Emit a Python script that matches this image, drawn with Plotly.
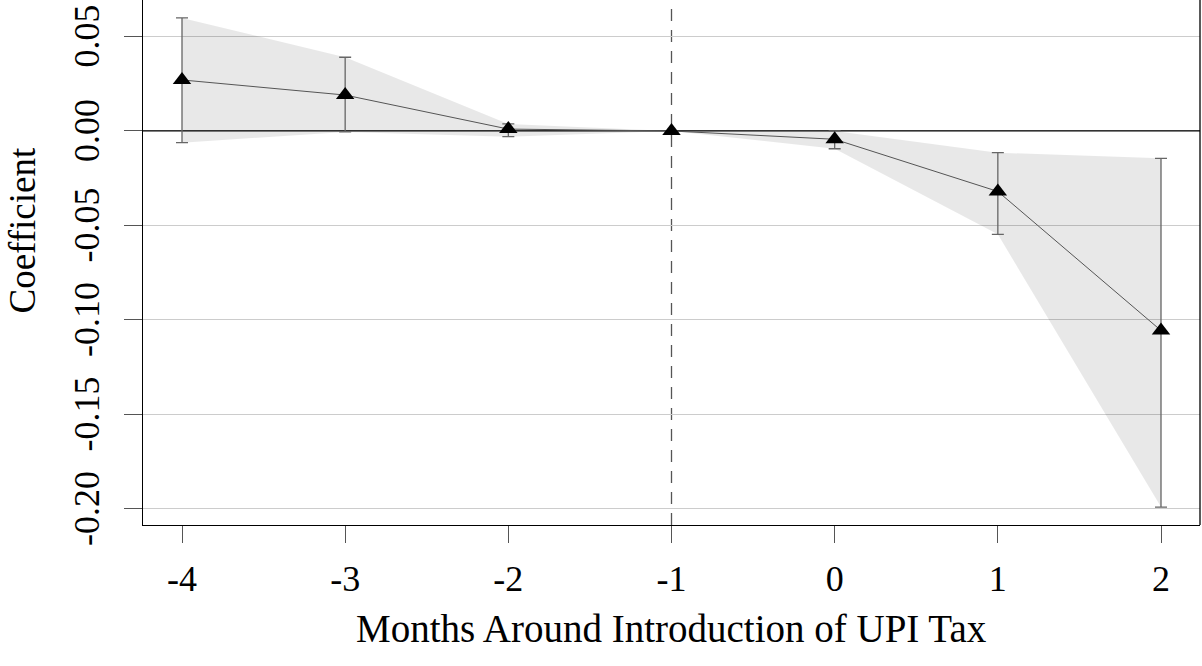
import plotly.graph_objects as go

months = [-4, -3, -2, -1, 0, 1, 2]
coef = [0.027, 0.019, 0.001, 0.0, -0.0044, -0.032, -0.1056]
ci_upper = [0.0598, 0.0390, 0.0037, 0.0, 0.0000, -0.0115, -0.0145]
ci_lower = [-0.0062, -0.0005, -0.0030, 0.0, -0.0094, -0.0547, -0.1990]

x_tick_vals = [-4, -3, -2, -1, 0, 1, 2]
x_tick_text = ["-4", "-3", "-2", "-1", "0", "1", "2"]
y_tick_vals = [0.05, 0.0, -0.05, -0.10, -0.15, -0.20]
y_tick_text = ["0.05", "0.00", "-0.05", "-0.10", "-0.15", "-0.20"]

x_range = [-4.239, 2.239]
y_range = [-0.2085, 0.0693]
event_month = -1

FONT = "Liberation Serif"
TICK_SIZE = 36
TITLE_SIZE = 39

fig = go.Figure()

# confidence band
fig.add_trace(go.Scatter(x=months, y=ci_upper, mode="lines",
                         line=dict(width=0), hoverinfo="skip", showlegend=False))
fig.add_trace(go.Scatter(x=months, y=ci_lower, mode="lines", fill="tonexty",
                         fillcolor="rgba(0,0,0,0.09)",
                         line=dict(width=0), hoverinfo="skip", showlegend=False))

# zero reference line
fig.add_trace(go.Scatter(x=x_range, y=[0, 0], mode="lines",
                         line=dict(color="black", width=1.3),
                         hoverinfo="skip", showlegend=False))

# coefficients with error bars
err_plus = [u - c for u, c in zip(ci_upper, coef)]
err_minus = [c - l for c, l in zip(coef, ci_lower)]
fig.add_trace(go.Scatter(
    x=months, y=coef, mode="lines+markers",
    line=dict(color="#555555", width=1),
    marker=dict(symbol="triangle-up", size=16, color="black",
                line=dict(color="black", width=0)),
    error_y=dict(type="data", symmetric=False, array=err_plus, arrayminus=err_minus,
                 color="#666666", thickness=1.3, width=6),
    showlegend=False))

# vertical dashed line at event month
fig.add_shape(type="line", x0=event_month, x1=event_month, y0=0, y1=1,
              xref="x", yref="paper", layer="below",
              line=dict(color="#555555", width=1.3, dash="12px,9px"))
# right border
fig.add_shape(type="line", x0=1, x1=1, y0=0, y1=1, xref="paper", yref="paper",
              line=dict(color="black", width=1.3))

# rotated y tick labels, placed on the y scale
for val, txt in zip(y_tick_vals, y_tick_text):
    fig.add_annotation(text=txt, xref="paper", yref="y", x=0, y=val,
                       xanchor="center", yanchor="middle", xshift=-56,
                       textangle=-90, showarrow=False,
                       font=dict(family=FONT, size=TICK_SIZE, color="black"))

# axis titles
fig.add_annotation(text="Months Around Introduction of UPI Tax", xref="paper", yref="paper",
                   x=0.5, y=0, xanchor="center", yanchor="middle", yshift=-103,
                   showarrow=False, font=dict(family=FONT, size=TITLE_SIZE, color="black"))
fig.add_annotation(text="Coefficient", xref="paper", yref="paper",
                   x=0, y=0.5, xanchor="center", yanchor="middle", xshift=-121, yshift=32,
                   textangle=-90,
                   showarrow=False, font=dict(family=FONT, size=TITLE_SIZE - 2, color="black"))

fig.update_layout(
    width=1202, height=666,
    margin=dict(l=143, r=2, t=0, b=141),
    paper_bgcolor="white", plot_bgcolor="white",
    font=dict(family=FONT, size=TICK_SIZE, color="black"),
    showlegend=False,
    xaxis=dict(range=x_range, tickvals=x_tick_vals, ticktext=x_tick_text,
               automargin=False,
               showgrid=False, zeroline=False,
               showline=True, linecolor="black", linewidth=1.3,
               ticks="outside", ticklen=17, tickcolor="#555555", tickwidth=1.3,
               ticklabelstandoff=5),
    yaxis=dict(range=y_range, tickvals=y_tick_vals, showticklabels=False,
               automargin=False,
               showgrid=True, gridcolor="#cccccc", gridwidth=1, zeroline=False,
               showline=True, linecolor="black", linewidth=1.3,
               ticks="outside", ticklen=18, tickcolor="#555555", tickwidth=1.3),
)

fig.write_html("out.html", config={"displayModeBar": False},
               post_script="document.body.style.margin='0';")
